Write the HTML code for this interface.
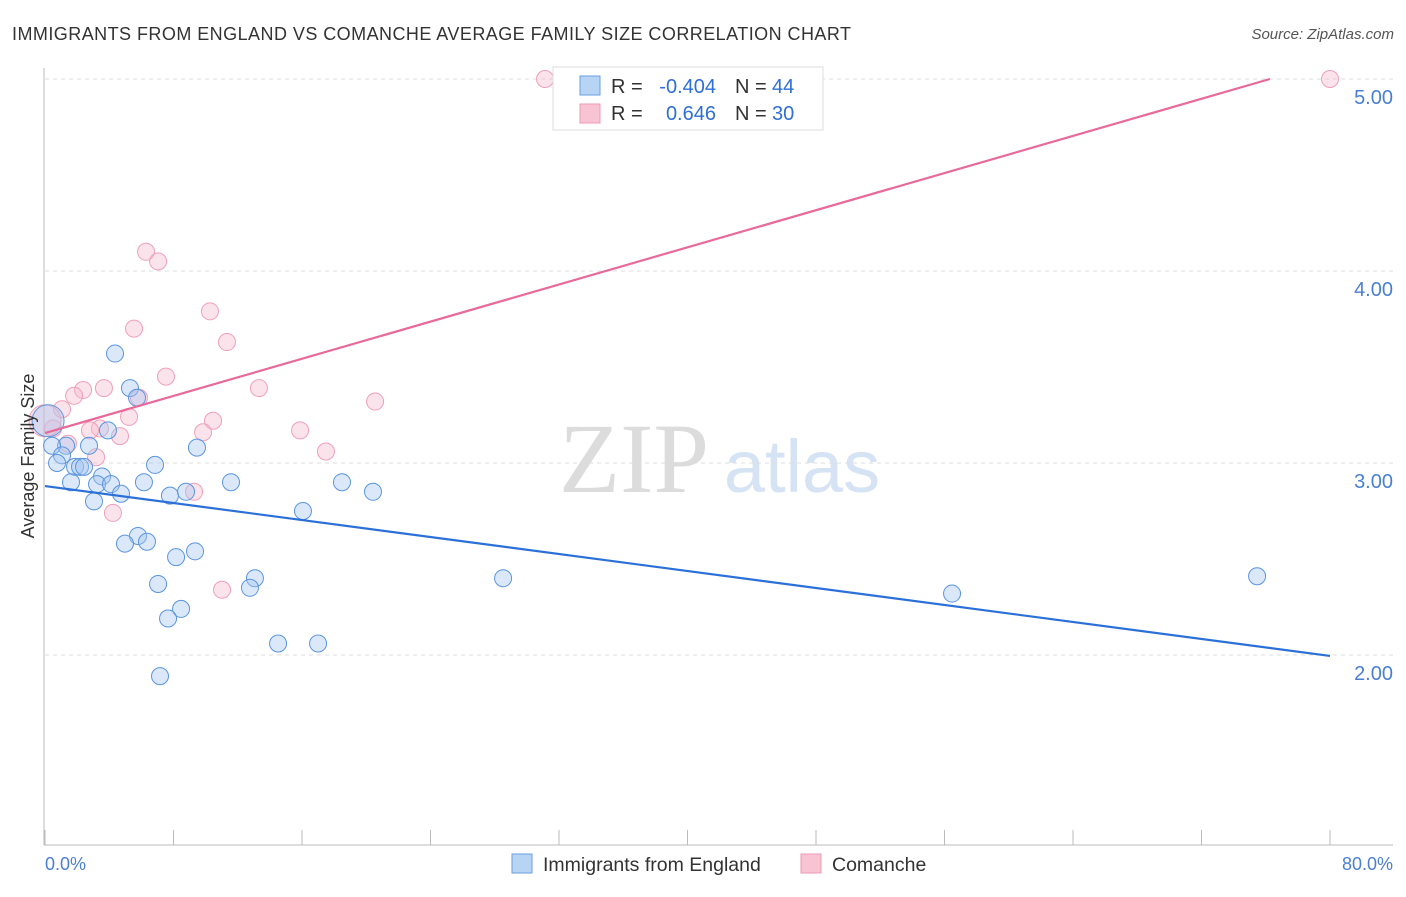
<!DOCTYPE html>
<html><head><meta charset="utf-8"><style>
body{margin:0;background:#fff;font-family:"Liberation Sans",sans-serif;}
</style></head><body>
<svg id="chart" width="1406" height="892" style="font-family:'Liberation Sans',sans-serif">
<text x="12" y="40" font-size="18" fill="#333" textLength="839">IMMIGRANTS FROM ENGLAND VS COMANCHE AVERAGE FAMILY SIZE CORRELATION CHART</text>
<text x="1394" y="39" font-size="15" fill="#555" font-style="italic" text-anchor="end">Source: ZipAtlas.com</text>
<text x="634" y="492" font-size="100" fill="#dcdcdc" style="font-family:'Liberation Serif',serif" text-anchor="middle">ZIP</text>
<text x="802" y="492" font-size="74" fill="#d5e3f5" text-anchor="middle">atlas</text>
<g id="grid"></g>
<g id="axes"></g>
<g id="marks"></g>
<text transform="translate(34,456) rotate(-90)" font-size="18" fill="#333" text-anchor="middle">Average Family Size</text>
<text x="45" y="870" font-size="18" fill="#4a7fd4">0.0%</text>
<text x="1393" y="870" font-size="18" fill="#4a7fd4" text-anchor="end">80.0%</text>
<g font-size="20">
<rect x="553" y="67" width="270" height="63" fill="#fff" stroke="#ddd"/>
<rect x="580" y="76" width="20" height="19" fill="#b8d4f5" stroke="#6a9ee0"/>
<rect x="580" y="104" width="20" height="19" fill="#f8c4d4" stroke="#ee9ab4"/>
<text x="611" y="93" fill="#333">R =</text>
<text x="716" y="93" fill="#2f6fd6" text-anchor="end">-0.404</text>
<text x="735" y="93" fill="#333">N =</text>
<text x="772" y="93" fill="#2f6fd6">44</text>
<text x="611" y="120" fill="#333">R =</text>
<text x="716" y="120" fill="#2f6fd6" text-anchor="end">0.646</text>
<text x="735" y="120" fill="#333">N =</text>
<text x="772" y="120" fill="#2f6fd6">30</text>
</g>
<g>
<rect x="512" y="854" width="20" height="19" fill="#b8d4f5" stroke="#6a9ee0"/>
<text x="543" y="871" font-size="19.5" fill="#333">Immigrants from England</text>
<rect x="801" y="854" width="20" height="19" fill="#f8c4d4" stroke="#ee9ab4"/>
<text x="832" y="871" font-size="19.5" fill="#333">Comanche</text>
</g>
</svg>
<script>
const yTicks=[2,3,4,5];
const yTickLabels=["2.00","3.00","4.00","5.00"];
const blueX=[4.36,5.29,5.73,3.92,1.31,2.74,0.44,1.06,0.75,1.87,2.18,2.43,6.85,9.46,3.55,1.62,3.24,4.11,6.16,11.58,4.73,7.78,8.78,3.05,18.49,20.42,16.06,5.79,4.98,6.35,9.34,8.16,13.07,12.76,7.04,8.47,7.66,14.51,17.0,7.16,28.52,56.47,75.46,0.19];
const blueY=[3.57,3.39,3.34,3.17,3.09,3.09,3.09,3.04,3.0,2.98,2.98,2.98,2.99,3.08,2.93,2.9,2.89,2.89,2.9,2.9,2.84,2.83,2.85,2.8,2.9,2.85,2.75,2.62,2.58,2.59,2.54,2.51,2.4,2.35,2.37,2.24,2.19,2.06,2.06,1.89,2.4,2.32,2.41,3.22];
const pinkX=[31.13,80,6.29,7.04,10.27,5.54,11.33,7.53,13.32,20.55,2.37,1.81,3.67,1.06,5.85,10.46,5.23,9.84,4.67,3.42,2.8,1.43,3.18,15.88,17.49,9.28,4.23,11.02,0.5,0.0];
const pinkY=[5.0,5.0,4.1,4.05,3.79,3.7,3.63,3.45,3.39,3.32,3.38,3.35,3.39,3.28,3.34,3.22,3.24,3.16,3.14,3.18,3.17,3.1,3.03,3.17,3.06,2.85,2.74,2.34,3.18,3.22];
const blueTrend=[[0,2.88],[80,1.995]];
const pinkTrend=[[0,3.156],[76.26,5.0]];
const NS="http://www.w3.org/2000/svg";
const xs=v=>45+v/80*1285;
const ys=v=>463-(v-3)*192;
function mk(tag,attrs,parent){const e=document.createElementNS(NS,tag);for(const k in attrs)e.setAttribute(k,attrs[k]);document.getElementById(parent).appendChild(e);return e;}
yTicks.forEach((t,i)=>{
 const l=mk('line',{x1:45,x2:1393,y1:ys(t),y2:ys(t),stroke:'#ddd','stroke-dasharray':'4,4'},'grid');
 
 
 const tx=mk('text',{x:1393,y:ys(t)+25,'font-size':20,fill:'#4a7fd4','text-anchor':'end'},'grid');
 tx.textContent=yTickLabels[i];
 
 
});
const ax=mk('line',{x1:44,x2:44,y1:68,y2:845,stroke:'#bbb'},'axes');


const bx=mk('line',{x1:44,x2:1393,y1:845,y2:845,stroke:'#bbb'},'axes');


for(let i=0;i<=10;i++){
 const t=mk('line',{x1:xs(i*8),x2:xs(i*8),y1:830,y2:845,stroke:'#bbb'},'axes');
 
 
}
function pts(X,Y,fill,stroke,name){
 X.forEach((x,i)=>{
  const big=(i===X.length-1);
  const c=mk('circle',{cx:xs(x),cy:ys(Y[i]),r:big?16:8.5,fill:fill,stroke:stroke,'stroke-width':1},'marks');
  
  
 });
}
pts(pinkX,pinkY,'rgba(246,185,205,0.4)','#f0a0b8','comanche-point');
pts(blueX,blueY,'rgba(165,198,240,0.4)','#5b95e0','england-point');
const bl=mk('line',{x1:xs(blueTrend[0][0]),y1:ys(blueTrend[0][1]),x2:xs(blueTrend[1][0]),y2:ys(blueTrend[1][1]),stroke:'#2a70d8','stroke-width':2.2},'marks');


const pl=mk('line',{x1:xs(pinkTrend[0][0]),y1:ys(pinkTrend[0][1]),x2:xs(pinkTrend[1][0]),y2:ys(pinkTrend[1][1]),stroke:'#e8699a','stroke-width':2.2},'marks');


</script>
</body></html>
